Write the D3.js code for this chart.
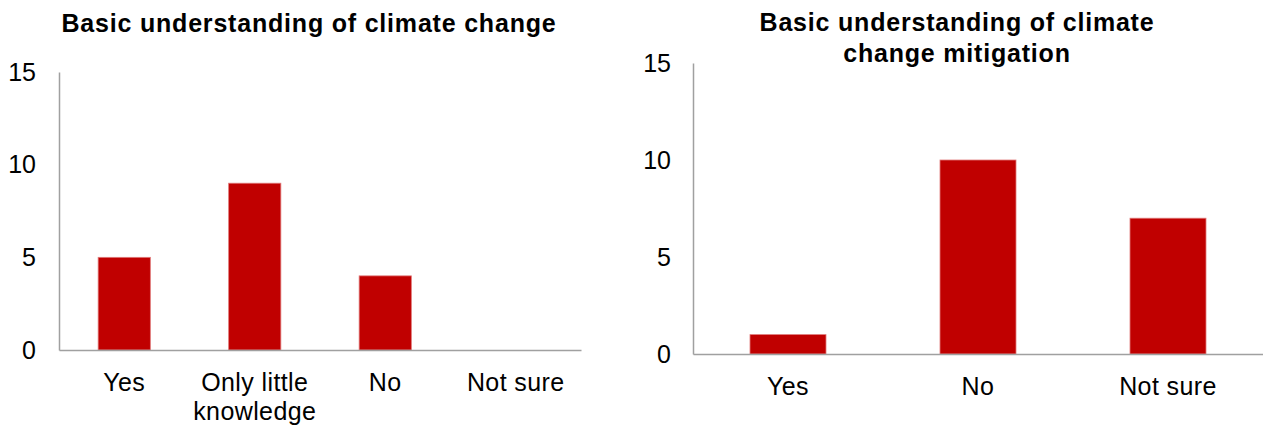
<!DOCTYPE html>
<html>
<head>
<meta charset="utf-8">
<script src="https://cdn.jsdelivr.net/npm/d3@7"></script>
<style>
  html, body { margin: 0; padding: 0; background: #fff; }
  svg { display: block; font-family: "Liberation Sans", Arial, sans-serif; }
</style>
</head>
<body>
<svg id="chart" width="1263" height="428"></svg>
<script>
// ---- Data ----
const leftTitle = ["Basic understanding of climate change"];
const leftCategories = ["Yes", "Only little\nknowledge", "No", "Not sure"];
const leftValues = [5, 9, 4, 0];

const rightTitle = ["Basic understanding of climate", "change mitigation"];
const rightCategories = ["Yes", "No", "Not sure"];
const rightValues = [1, 10, 7];

const yTicks = [0, 5, 10, 15];
const yMax = 15;

// ---- Drawing ----
const svg = d3.select("#chart");
const BAR = "#C00000";
const AXIS = "#A0A0A0";

function drawChart(cfg) {
  const g = svg.append("g");
  const x = d3.scaleBand().domain(cfg.categories).range([cfg.x0, cfg.x1])
    .paddingInner(0.6).paddingOuter(0.3);
  const y = d3.scaleLinear().domain([0, yMax]).range([cfg.yBase, cfg.yTop]);

  // title
  const t = g.append("text")
    .attr("x", cfg.titleX)
    .attr("text-anchor", "middle")
    .attr("font-weight", "bold")
    .attr("font-size", 25)
    .attr("letter-spacing", "0.8px")
    .attr("fill", "#000");
  cfg.title.forEach((line, i) => {
    t.append("tspan").attr("x", cfg.titleX).attr("y", cfg.titleY + i * 31).text(line);
  });

  // bars
  g.selectAll("rect.bar").data(cfg.values).join("rect")
    .attr("class", "bar")
    .attr("x", (d, i) => x(cfg.categories[i]))
    .attr("width", x.bandwidth())
    .attr("y", d => y(d))
    .attr("height", d => y(0) - y(d))
    .attr("fill", BAR)
    .attr("stroke", d => d > 0 ? "#E07a7a" : "none")
    .attr("stroke-width", 0.8);

  // y axis
  const ya = d3.axisLeft(y).tickValues(yTicks).tickSize(0).tickPadding(cfg.tickPad).tickSizeOuter(0);
  const yg = g.append("g").attr("transform", `translate(${cfg.x0},0)`).call(ya);
  yg.select(".domain").attr("stroke", AXIS).attr("stroke-width", 1.5);
  yg.selectAll(".tick text").attr("font-size", 25).attr("fill", "#000")
    .attr("font-family", "'Liberation Sans', Arial, sans-serif");

  // x axis
  const xa = d3.axisBottom(x).tickSize(0).tickSizeOuter(0).tickFormat("");
  const xg = g.append("g").attr("transform", `translate(0,${cfg.yBase})`).call(xa);
  xg.select(".domain").attr("stroke", AXIS).attr("stroke-width", 1.5);

  // category labels (multi-line)
  cfg.categories.forEach(c => {
    const lines = c.split("\n");
    const tt = g.append("text")
      .attr("text-anchor", "middle")
      .attr("font-size", 25)
      .attr("letter-spacing", "0.4px")
      .attr("fill", "#000");
    lines.forEach((ln, i) => {
      tt.append("tspan")
        .attr("x", x(c) + x.bandwidth() / 2)
        .attr("y", cfg.labelY + i * 29)
        .text(ln);
    });
  });
}

drawChart({
  title: leftTitle, titleX: 309, titleY: 32,
  categories: leftCategories, values: leftValues,
  x0: 59, x1: 581, yBase: 350, yTop: 72, tickPad: 23, labelY: 391
});

drawChart({
  title: rightTitle, titleX: 957, titleY: 31,
  categories: rightCategories, values: rightValues,
  x0: 693, x1: 1263, yBase: 354, yTop: 63, tickPad: 22, labelY: 395
});
</script>
</body>
</html>
